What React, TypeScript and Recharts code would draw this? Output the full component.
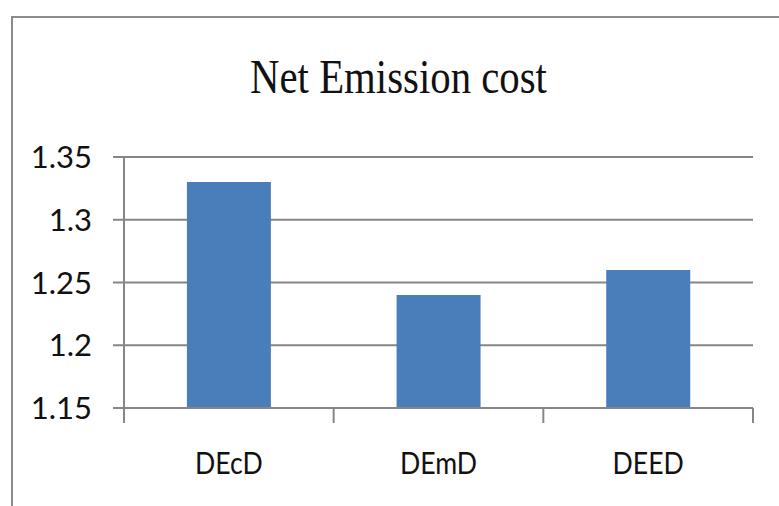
import { BarChart, Bar, XAxis, YAxis, CartesianGrid } from 'recharts';

// values
const categories = ['DEcD', 'DEmD', 'DEED'];
const netEmissionCost = [1.33, 1.24, 1.26];
const yTicks = [1.15, 1.2, 1.25, 1.3, 1.35];

const data = categories.map((name, i) => ({ name, cost: netEmissionCost[i] }));

const LINE = '#868686';
const BAR = '#4a7ebb';
const LABEL_FONT = 'Lato, "Open Sans", sans-serif';

function YTick({ x, y, payload }: any) {
  return (
    <g transform={`translate(${x},${y})`}>
      <text textAnchor="end" dy="0.36em" fontFamily={LABEL_FONT} fontSize={31} fill="#111">
        {payload.value}
      </text>
    </g>
  );
}

// excel puts the category tick marks on the band edges, not the centres
function XTick({ x, y, payload, index, visibleTicksCount }: any) {
  const half = payload.offset ?? 0;
  const last = index === (visibleTicksCount ?? categories.length) - 1;
  return (
    <g transform={`translate(${x},${y})`}>
      {half > 0 && <line x1={-half} x2={-half} y1={0} y2={15} stroke={LINE} strokeWidth={2} />}
      {half > 0 && last && <line x1={half} x2={half} y1={0} y2={15} stroke={LINE} strokeWidth={2} />}
      <g transform="scale(0.86,1)">
        <text textAnchor="middle" y={44} dy="0.71em" fontFamily={LABEL_FONT} fontSize={31} fill="#111">
          {payload.value}
        </text>
      </g>
    </g>
  );
}

export default function App() {
  return (
    <div style={{ position: 'absolute', left: 0, top: 0, width: 779, height: 506, overflow: 'hidden', background: '#fff' }}>
      {/* chart frame */}
      <div style={{ position: 'absolute', left: 11, top: 16, right: -20, bottom: -20, borderLeft: '2px solid #8c8c8c', borderTop: '2px solid #8c8c8c' }} />

      <div style={{
        position: 'absolute', left: 0, top: 53, width: 797, textAlign: 'center',
        fontFamily: '"Liberation Serif", "Times New Roman", serif', fontSize: 48, lineHeight: 1,
        color: '#111', transform: 'scaleX(0.85)', transformOrigin: '398.5px 0',
      }}>
        Net Emission cost
      </div>

      <div style={{ position: 'absolute', left: 0, top: 0 }}>
        <BarChart width={779} height={506} data={data} margin={{ top: 157, right: 26, bottom: 0, left: 0 }} barCategoryGap="30%">
          <CartesianGrid vertical={false} stroke={LINE} strokeWidth={2} />
          <XAxis
            dataKey="name"
            height={98}
            axisLine={{ stroke: LINE, strokeWidth: 2 }}
            tickLine={false}
            tickSize={0}
            tickMargin={0}
            tick={<XTick />}
            interval={0}
          />
          <YAxis
            width={124}
            domain={[1.15, 1.35]}
            ticks={yTicks}
            allowDataOverflow
            axisLine={{ stroke: LINE, strokeWidth: 2 }}
            tickLine={{ stroke: LINE, strokeWidth: 2 }}
            tickSize={11}
            tickMargin={21}
            tick={<YTick />}
          />
          <Bar dataKey="cost" fill={BAR} isAnimationActive={false} />
        </BarChart>
      </div>
    </div>
  );
}
